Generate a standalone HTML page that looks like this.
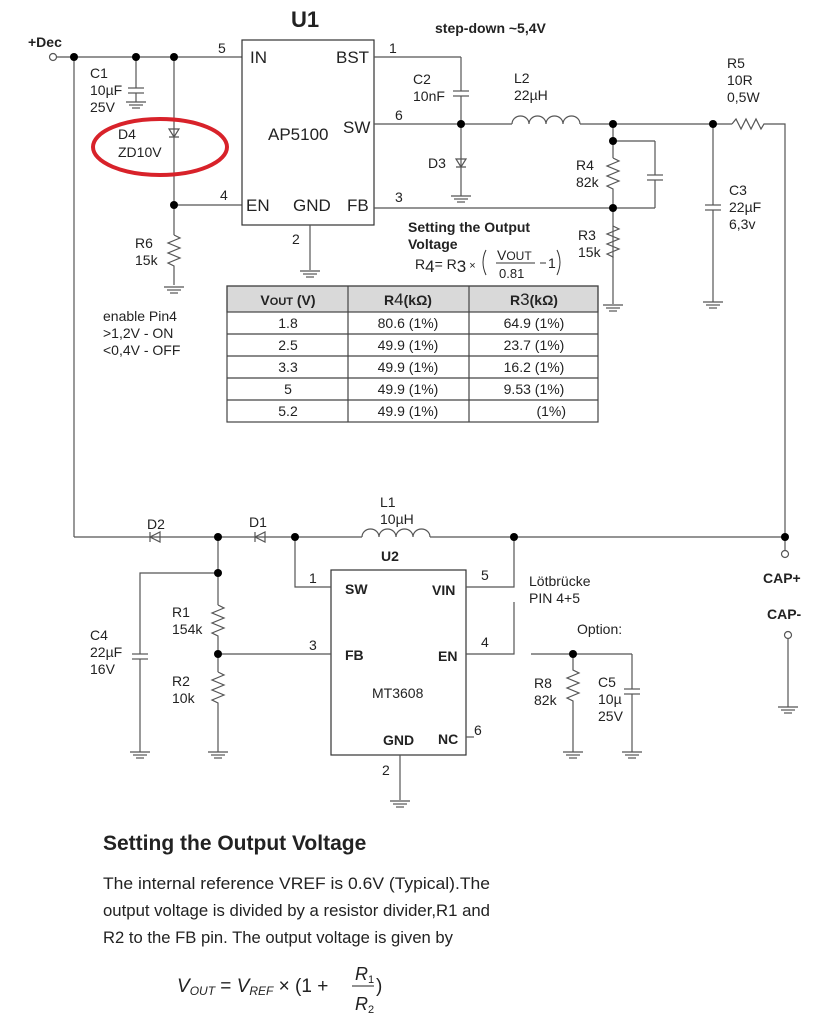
<!DOCTYPE html>
<html><head><meta charset="utf-8"><style>
body{margin:0;background:#fff}
svg{display:block}
text{font-family:"Liberation Sans",Arial,sans-serif;fill:#222}
.s{font-size:14px}
.b{font-weight:bold}
</style></head><body>
<svg width="818" height="1020" viewBox="0 0 818 1020" xmlns="http://www.w3.org/2000/svg" font-family="Liberation Sans, Arial, sans-serif">
<defs>
<g id="gnd"><line x1="-10" y1="0" x2="10" y2="0"/><line x1="-7" y1="3" x2="7" y2="3"/><line x1="-4" y1="6" x2="4" y2="6"/></g>
</defs>
<g stroke="#555" stroke-width="1.2" fill="none">
<line x1="57" y1="57" x2="242" y2="57"/>
<line x1="74" y1="57" x2="74" y2="537"/>
<line x1="136" y1="57" x2="136" y2="88"/>
<line x1="128" y1="88" x2="144" y2="88"/><line x1="128" y1="93" x2="144" y2="93"/>
<line x1="136" y1="93" x2="136" y2="102"/>
<use href="#gnd" x="136" y="102"/>
<line x1="174" y1="57" x2="174" y2="235"/>
<path d="M169 129 L179 129 L174 137 Z M169 137 L179 137"/>
<line x1="174" y1="205" x2="242" y2="205"/>
<path d="M174 235 l6 3 l-12 5 l12 5 l-12 5 l12 5 l-12 5 l6 3 V285"/>
<use href="#gnd" x="174" y="287"/>
<rect x="242" y="40" width="132" height="185" stroke="#333"/>
<line x1="310" y1="225" x2="310" y2="270"/>
<use href="#gnd" x="310" y="271"/>
<line x1="374" y1="57" x2="461" y2="57"/>
<line x1="461" y1="57" x2="461" y2="91"/>
<line x1="453" y1="91" x2="469" y2="91"/><line x1="453" y1="96" x2="469" y2="96"/>
<line x1="461" y1="96" x2="461" y2="196"/>
<path d="M456 159 L466 159 L461 167 Z M456 167 L466 167"/>
<use href="#gnd" x="461" y="196"/>
<line x1="374" y1="124" x2="512" y2="124"/>
<path d="M512 124 a8.5 8 0 0 1 17 0 a8.5 8 0 0 1 17 0 a8.5 8 0 0 1 17 0 a8.5 8 0 0 1 17 0"/>
<line x1="580" y1="124" x2="732" y2="124"/>
<path d="M732 124 l4 -5 l5 10 l5 -10 l5 10 l5 -10 l5 10 l3 -5 H785 V537"/>
<line x1="613" y1="124" x2="613" y2="158"/>
<path d="M613 158 l6 3 l-12 5 l12 5 l-12 5 l12 5 l-12 5 l6 3 V258"/>
<line x1="613" y1="141" x2="655" y2="141"/>
<line x1="655" y1="141" x2="655" y2="175"/>
<line x1="647" y1="175" x2="663" y2="175"/><line x1="647" y1="180" x2="663" y2="180"/>
<line x1="655" y1="180" x2="655" y2="208"/>
<line x1="374" y1="208" x2="655" y2="208"/>
<path d="M613 226 l6 3 l-12 5 l12 5 l-12 5 l12 5 l-12 5 l6 3 V304"/>
<use href="#gnd" x="613" y="305"/>
<line x1="713" y1="124" x2="713" y2="205"/>
<line x1="705" y1="205" x2="721" y2="205"/><line x1="705" y1="210" x2="721" y2="210"/>
<line x1="713" y1="210" x2="713" y2="302"/>
<use href="#gnd" x="713" y="302"/>
<line x1="74" y1="537" x2="362" y2="537"/>
<path d="M150 532 V542 M150 537 L160 532 V542 Z"/>
<path d="M255 532 V542 M255 537 L265 532 V542 Z"/>
<path d="M362 537 a8.5 8 0 0 1 17 0 a8.5 8 0 0 1 17 0 a8.5 8 0 0 1 17 0 a8.5 8 0 0 1 17 0"/>
<line x1="430" y1="537" x2="785" y2="537"/>
<line x1="785" y1="537" x2="785" y2="551"/>
<circle cx="785" cy="554" r="3.5"/>
<circle cx="788" cy="635" r="3.5"/>
<line x1="788" y1="639" x2="788" y2="707"/>
<use href="#gnd" x="788" y="707"/>
<rect x="331" y="570" width="135" height="185" stroke="#333"/>
<path d="M295 537 V587 H331"/>
<path d="M466 587 H514 V537"/>
<path d="M466 654 H514 V602"/>
<line x1="466" y1="737" x2="474" y2="737"/>
<line x1="400" y1="755" x2="400" y2="800"/>
<use href="#gnd" x="400" y="801"/>
<line x1="218" y1="537" x2="218" y2="605"/>
<path d="M218 605 l6 3 l-12 5 l12 5 l-12 5 l12 5 l-12 5 l6 3 V672"/>
<path d="M218 672 l6 3 l-12 5 l12 5 l-12 5 l12 5 l-12 5 l6 3 V752"/>
<use href="#gnd" x="218" y="752"/>
<line x1="218" y1="654" x2="331" y2="654"/>
<path d="M218 573 H140 V654"/>
<line x1="132" y1="654" x2="148" y2="654"/><line x1="132" y1="659" x2="148" y2="659"/>
<line x1="140" y1="659" x2="140" y2="752"/>
<use href="#gnd" x="140" y="752"/>
<line x1="531" y1="654" x2="632" y2="654"/>
<path d="M573 654 V670 l6 3 l-12 5 l12 5 l-12 5 l12 5 l-12 5 l6 3 V752"/>
<use href="#gnd" x="573" y="752"/>
<line x1="632" y1="654" x2="632" y2="689"/>
<line x1="624" y1="689" x2="640" y2="689"/><line x1="624" y1="694" x2="640" y2="694"/>
<line x1="632" y1="694" x2="632" y2="752"/>
<use href="#gnd" x="632" y="752"/>
<circle cx="53" cy="57" r="3.5"/>
<ellipse cx="160" cy="147" rx="67" ry="28" stroke="#d8222a" stroke-width="4"/>
</g>
<g fill="#000">
<circle cx="74" cy="57" r="4"/><circle cx="136" cy="57" r="4"/><circle cx="174" cy="57" r="4"/>
<circle cx="174" cy="205" r="4"/><circle cx="461" cy="124" r="4"/>
<circle cx="613" cy="124" r="4"/><circle cx="613" cy="141" r="4"/><circle cx="613" cy="208" r="4"/>
<circle cx="713" cy="124" r="4"/>
<circle cx="218" cy="537" r="4"/><circle cx="295" cy="537" r="4"/><circle cx="514" cy="537" r="4"/><circle cx="785" cy="537" r="4"/>
<circle cx="218" cy="573" r="4"/><circle cx="218" cy="654" r="4"/><circle cx="573" cy="654" r="4"/>
</g>
<g stroke="#444" stroke-width="1.2">
<rect x="227" y="286" width="371" height="26" fill="#d9d9d9"/>
<rect x="227" y="286" width="371" height="136" fill="none"/>
<line x1="348" y1="286" x2="348" y2="422"/><line x1="469" y1="286" x2="469" y2="422"/>
<line x1="227" y1="334" x2="598" y2="334"/><line x1="227" y1="356" x2="598" y2="356"/>
<line x1="227" y1="378" x2="598" y2="378"/><line x1="227" y1="400" x2="598" y2="400"/>
</g>
<g class="s" text-anchor="middle">
<text x="288" y="305" class="b">V<tspan font-size="11">OUT</tspan> (V)</text>
<text x="408" y="305" class="b">R<tspan font-size="17" font-weight="normal">4</tspan>(kΩ)</text>
<text x="534" y="305" class="b">R<tspan font-size="17" font-weight="normal">3</tspan>(kΩ)</text>
<text x="288" y="328">1.8</text><text x="408" y="328">80.6 (1%)</text><text x="534" y="328">64.9 (1%)</text>
<text x="288" y="350">2.5</text><text x="408" y="350">49.9 (1%)</text><text x="534" y="350">23.7 (1%)</text>
<text x="288" y="372">3.3</text><text x="408" y="372">49.9 (1%)</text><text x="534" y="372">16.2 (1%)</text>
<text x="288" y="394">5</text><text x="408" y="394">49.9 (1%)</text><text x="534" y="394">9.53 (1%)</text>
<text x="288" y="416">5.2</text><text x="408" y="416">49.9 (1%)</text><text x="566" y="416" text-anchor="end">(1%)</text>
</g>
<text x="305" y="27" font-size="22" class="b" text-anchor="middle">U1</text>
<text x="28" y="47" class="s b" font-size="13">+Dec</text>
<text x="435" y="33" class="s b">step-down ~5,4V</text>
<g font-size="17">
<text x="250" y="63">IN</text><text x="336" y="63">BST</text>
<text x="268" y="140">AP5100</text><text x="343" y="133">SW</text>
<text x="246" y="211">EN</text><text x="293" y="211">GND</text><text x="347" y="211">FB</text>
</g>
<g class="s">
<text x="218" y="53">5</text><text x="389" y="53">1</text><text x="395" y="120">6</text>
<text x="220" y="200">4</text><text x="395" y="202">3</text><text x="292" y="244">2</text>
<text x="90" y="78">C1</text><text x="90" y="95">10µF</text><text x="90" y="112">25V</text>
<text x="118" y="139">D4</text><text x="118" y="157">ZD10V</text>
<text x="135" y="248">R6</text><text x="135" y="265">15k</text>
<text x="413" y="84">C2</text><text x="413" y="101">10nF</text>
<text x="428" y="168">D3</text>
<text x="514" y="83">L2</text><text x="514" y="100">22µH</text>
<text x="727" y="68">R5</text><text x="727" y="85">10R</text><text x="727" y="102">0,5W</text>
<text x="576" y="170">R4</text><text x="576" y="187">82k</text>
<text x="578" y="240">R3</text><text x="578" y="257">15k</text>
<text x="729" y="195">C3</text><text x="729" y="212">22µF</text><text x="729" y="229">6,3v</text>
<text x="408" y="232" class="b">Setting the Output</text><text x="408" y="249" class="b">Voltage</text>
<text x="415" y="269">R<tspan font-size="17" dy="3">4</tspan><tspan dy="-3">= R</tspan><tspan font-size="17" dy="3">3</tspan><tspan dy="-3" font-size="11"> × </tspan></text>
<text x="103" y="321">enable Pin4</text><text x="103" y="338">&gt;1,2V - ON</text><text x="103" y="355">&lt;0,4V - OFF</text>
</g>
<g stroke="#333" fill="none" stroke-width="1"><path d="M486 250 Q480 262 486 275"/><path d="M557 250 Q563 262 557 275"/><line x1="496" y1="263" x2="535" y2="263"/><line x1="540" y1="263" x2="546" y2="263"/></g>
<text x="497" y="260" class="s">V<tspan font-size="12">OUT</tspan></text>
<text x="499" y="278" font-size="13">0.81</text>
<text x="548" y="268" class="s">1</text>
<g class="s">
<text x="380" y="507">L1</text><text x="380" y="524">10µH</text>
<text x="147" y="529">D2</text><text x="249" y="527">D1</text>
<text x="172" y="617">R1</text><text x="172" y="634">154k</text>
<text x="172" y="686">R2</text><text x="172" y="703">10k</text>
<text x="90" y="640">C4</text><text x="90" y="657">22µF</text><text x="90" y="674">16V</text>
<text x="309" y="583">1</text><text x="481" y="580">5</text><text x="309" y="650">3</text><text x="481" y="647">4</text><text x="474" y="735">6</text><text x="382" y="775">2</text>
<text x="372" y="698">MT3608</text>
<text x="529" y="586">Lötbrücke</text><text x="529" y="603">PIN 4+5</text>
<text x="577" y="634">Option:</text>
<text x="534" y="688">R8</text><text x="534" y="705">82k</text>
<text x="598" y="687">C5</text><text x="598" y="704">10µ</text><text x="598" y="721">25V</text>
<text x="763" y="583" class="b">CAP+</text><text x="767" y="619" class="b">CAP-</text>
</g>
<g class="s b">
<text x="381" y="561">U2</text>
<text x="345" y="594">SW</text><text x="432" y="595">VIN</text>
<text x="345" y="660">FB</text><text x="438" y="661">EN</text>
<text x="383" y="745">GND</text><text x="438" y="744">NC</text>
</g>
<text x="103" y="850" font-size="21" class="b" fill="#111">Setting the Output Voltage</text>
<g font-size="17" fill="#222">
<text x="103" y="889" textLength="387" lengthAdjust="spacingAndGlyphs">The internal reference VREF is 0.6V (Typical).The</text>
<text x="103" y="916" textLength="387" lengthAdjust="spacingAndGlyphs">output voltage is divided by a resistor divider,R1 and</text>
<text x="103" y="943" textLength="350" lengthAdjust="spacingAndGlyphs">R2 to the FB pin. The output voltage is given by</text>
</g>
<g font-family="Liberation Serif,serif" font-style="italic" fill="#222">
<text x="177" y="992" font-size="19" font-family="Liberation Serif, serif">V<tspan font-size="12" dy="3">OUT</tspan><tspan dy="-3" font-style="normal"> = </tspan>V<tspan font-size="12" dy="3">REF</tspan><tspan dy="-3" font-style="normal"> × (1 + </tspan></text>
<text x="355" y="980" font-size="18" font-family="Liberation Serif, serif">R<tspan font-size="11" dy="3" font-style="normal">1</tspan></text>
<text x="355" y="1010" font-size="18" font-family="Liberation Serif, serif">R<tspan font-size="11" dy="3" font-style="normal">2</tspan></text>
<text x="376" y="992" font-size="19" font-style="normal" font-family="Liberation Serif, serif">)</text>
</g>
<line x1="352" y1="986" x2="374" y2="986" stroke="#222"/>
</svg>
</body></html>
